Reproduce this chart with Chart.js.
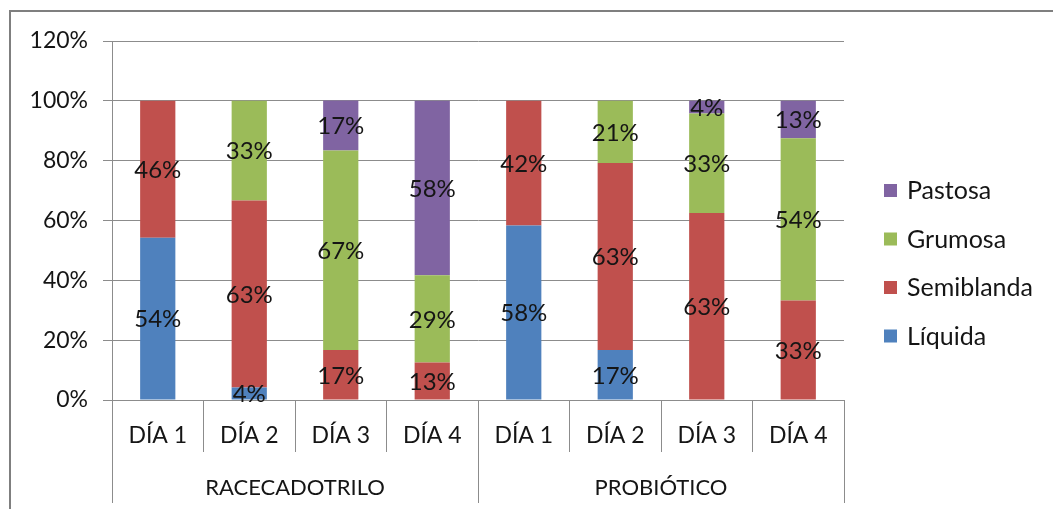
<html lang="es">
  <head>
    <title>Consistencia por día</title>
    <meta charset="utf-8">
    <script src="https://cdnjs.cloudflare.com/ajax/libs/Chart.js/4.4.1/chart.umd.min.js"></script>
    <style>
      body { margin: 0; background: #fff; }
      #wrap { position: relative; width: 1053px; height: 509px; }
    </style>
  </head>
  <body>
  <div id="wrap"><canvas id="myChart" width="1053" height="509"></canvas></div>
  <script>
    // categories (day + group)
    var days = ["DÍA 1", "DÍA 2", "DÍA 3", "DÍA 4", "DÍA 1", "DÍA 2", "DÍA 3", "DÍA 4"];
    var groups = ["RACECADOTRILO", "PROBIÓTICO"];
    var yTicks = [0, 20, 40, 60, 80, 100, 120];

    // series values in percent
    var liquida    = [54.2, 4.2, 0, 0, 58.3, 16.7, 0, 0];
    var semiblanda = [45.8, 62.5, 16.7, 12.5, 41.7, 62.5, 62.5, 33.3];
    var grumosa    = [0, 33.3, 66.7, 29.2, 0, 20.8, 33.3, 54.2];
    var pastosa    = [0, 0, 16.7, 58.3, 0, 0, 4.2, 12.5];

    var seriesNames = ["Líquida", "Semiblanda", "Grumosa", "Pastosa"];
    var seriesColors = ["#4F81BD", "#C0504D", "#9BBB59", "#8064A2"];

    var FONT = "Lato, 'Open Sans', sans-serif";
    var GRID = "#8c8c8c";
    var TEXT = "#151515";

    // labels in the middle of every segment
    var segmentLabels = {
      id: "segmentLabels",
      afterDatasetsDraw: function(chart) {
        var ctx = chart.ctx;
        ctx.save();
        ctx.font = "24px " + FONT;
        ctx.fillStyle = TEXT;
        ctx.textAlign = "center";
        ctx.textBaseline = "middle";
        chart.data.datasets.forEach(function(ds, i) {
          chart.getDatasetMeta(i).data.forEach(function(bar, j) {
            var v = ds.data[j];
            if (!v) return;
            var p = bar.getProps(["x", "y", "base"], true);
            ctx.fillText(Math.round(v) + "%", p.x, (p.y + p.base) / 2 + 1);
          });
        });
        ctx.restore();
      }
    };

    // frame, group row of the axis and the legend on the right
    var decorations = {
      id: "decorations",
      beforeDraw: function(chart) {
        var ctx = chart.ctx;
        ctx.save();
        ctx.strokeStyle = "#7f7f7f";
        ctx.lineWidth = 2;
        ctx.beginPath();
        ctx.moveTo(10, 509);
        ctx.lineTo(10, 11);
        ctx.lineTo(1053, 11);
        ctx.stroke();
        ctx.restore();
      },
      afterDraw: function(chart) {
        var ctx = chart.ctx;
        var area = chart.chartArea;
        var x = chart.scales.x;
        var n = days.length / groups.length;
        ctx.save();
        ctx.strokeStyle = GRID;
        ctx.lineWidth = 1;
        // group separators
        for (var g = 0; g <= groups.length; g++) {
          var gx = Math.round(area.left + (area.right - area.left) * g / groups.length) + 0.5;
          ctx.beginPath();
          ctx.moveTo(gx, area.bottom);
          ctx.lineTo(gx, 503);
          ctx.stroke();
        }
        ctx.font = "22px " + FONT;
        ctx.fillStyle = TEXT;
        ctx.textAlign = "center";
        ctx.textBaseline = "middle";
        groups.forEach(function(name, g) {
          var cx = (x.getPixelForValue(g * n) + x.getPixelForValue(g * n + n - 1)) / 2;
          ctx.fillText(name, cx, 488);
        });
        // legend, top item is the last series
        ctx.font = "25px " + FONT;
        ctx.textAlign = "left";
        var order = seriesNames.slice().reverse();
        var cols = seriesColors.slice().reverse();
        order.forEach(function(name, k) {
          var ly = 191 + k * 48.5;
          ctx.fillStyle = cols[k];
          ctx.fillRect(884, ly - 7, 13, 13);
          ctx.fillStyle = TEXT;
          ctx.fillText(name, 907, ly);
        });
        ctx.restore();
      }
    };

    var ctx = document.getElementById("myChart").getContext("2d");
    new Chart(ctx, {
      type: "bar",
      data: {
        labels: days,
        datasets: [
          { label: seriesNames[0], data: liquida, backgroundColor: seriesColors[0] },
          { label: seriesNames[1], data: semiblanda, backgroundColor: seriesColors[1] },
          { label: seriesNames[2], data: grumosa, backgroundColor: seriesColors[2] },
          { label: seriesNames[3], data: pastosa, backgroundColor: seriesColors[3] }
        ]
      },
      options: {
        responsive: false,
        animation: false,
        layout: { padding: { left: 0, right: 1053 - 844, top: 41, bottom: 0 } },
        datasets: { bar: { categoryPercentage: 1, barPercentage: 0.385 } },
        plugins: { legend: { display: false }, tooltip: { enabled: false } },
        scales: {
          x: {
            stacked: true,
            grid: { offset: true, drawOnChartArea: false, tickLength: 52, color: GRID },
            border: { color: GRID },
            ticks: { padding: -30, color: TEXT, font: { family: FONT, size: 23 }, maxRotation: 0 },
            afterFit: function(scale) { scale.height = 109; }
          },
          y: {
            stacked: true,
            min: 0,
            max: 120,
            afterBuildTicks: function(scale) {
              scale.ticks = yTicks.map(function(v) { return { value: v }; });
            },
            grid: { color: GRID, tickLength: 9 },
            border: { color: GRID },
            ticks: {
              padding: 15,
              color: TEXT,
              font: { family: FONT, size: 23 },
              callback: function(v) { return v + "%"; }
            },
            afterFit: function(scale) { scale.width = 112; }
          }
        }
      },
      plugins: [segmentLabels, decorations]
    });
  </script>
  </body>
</html>
